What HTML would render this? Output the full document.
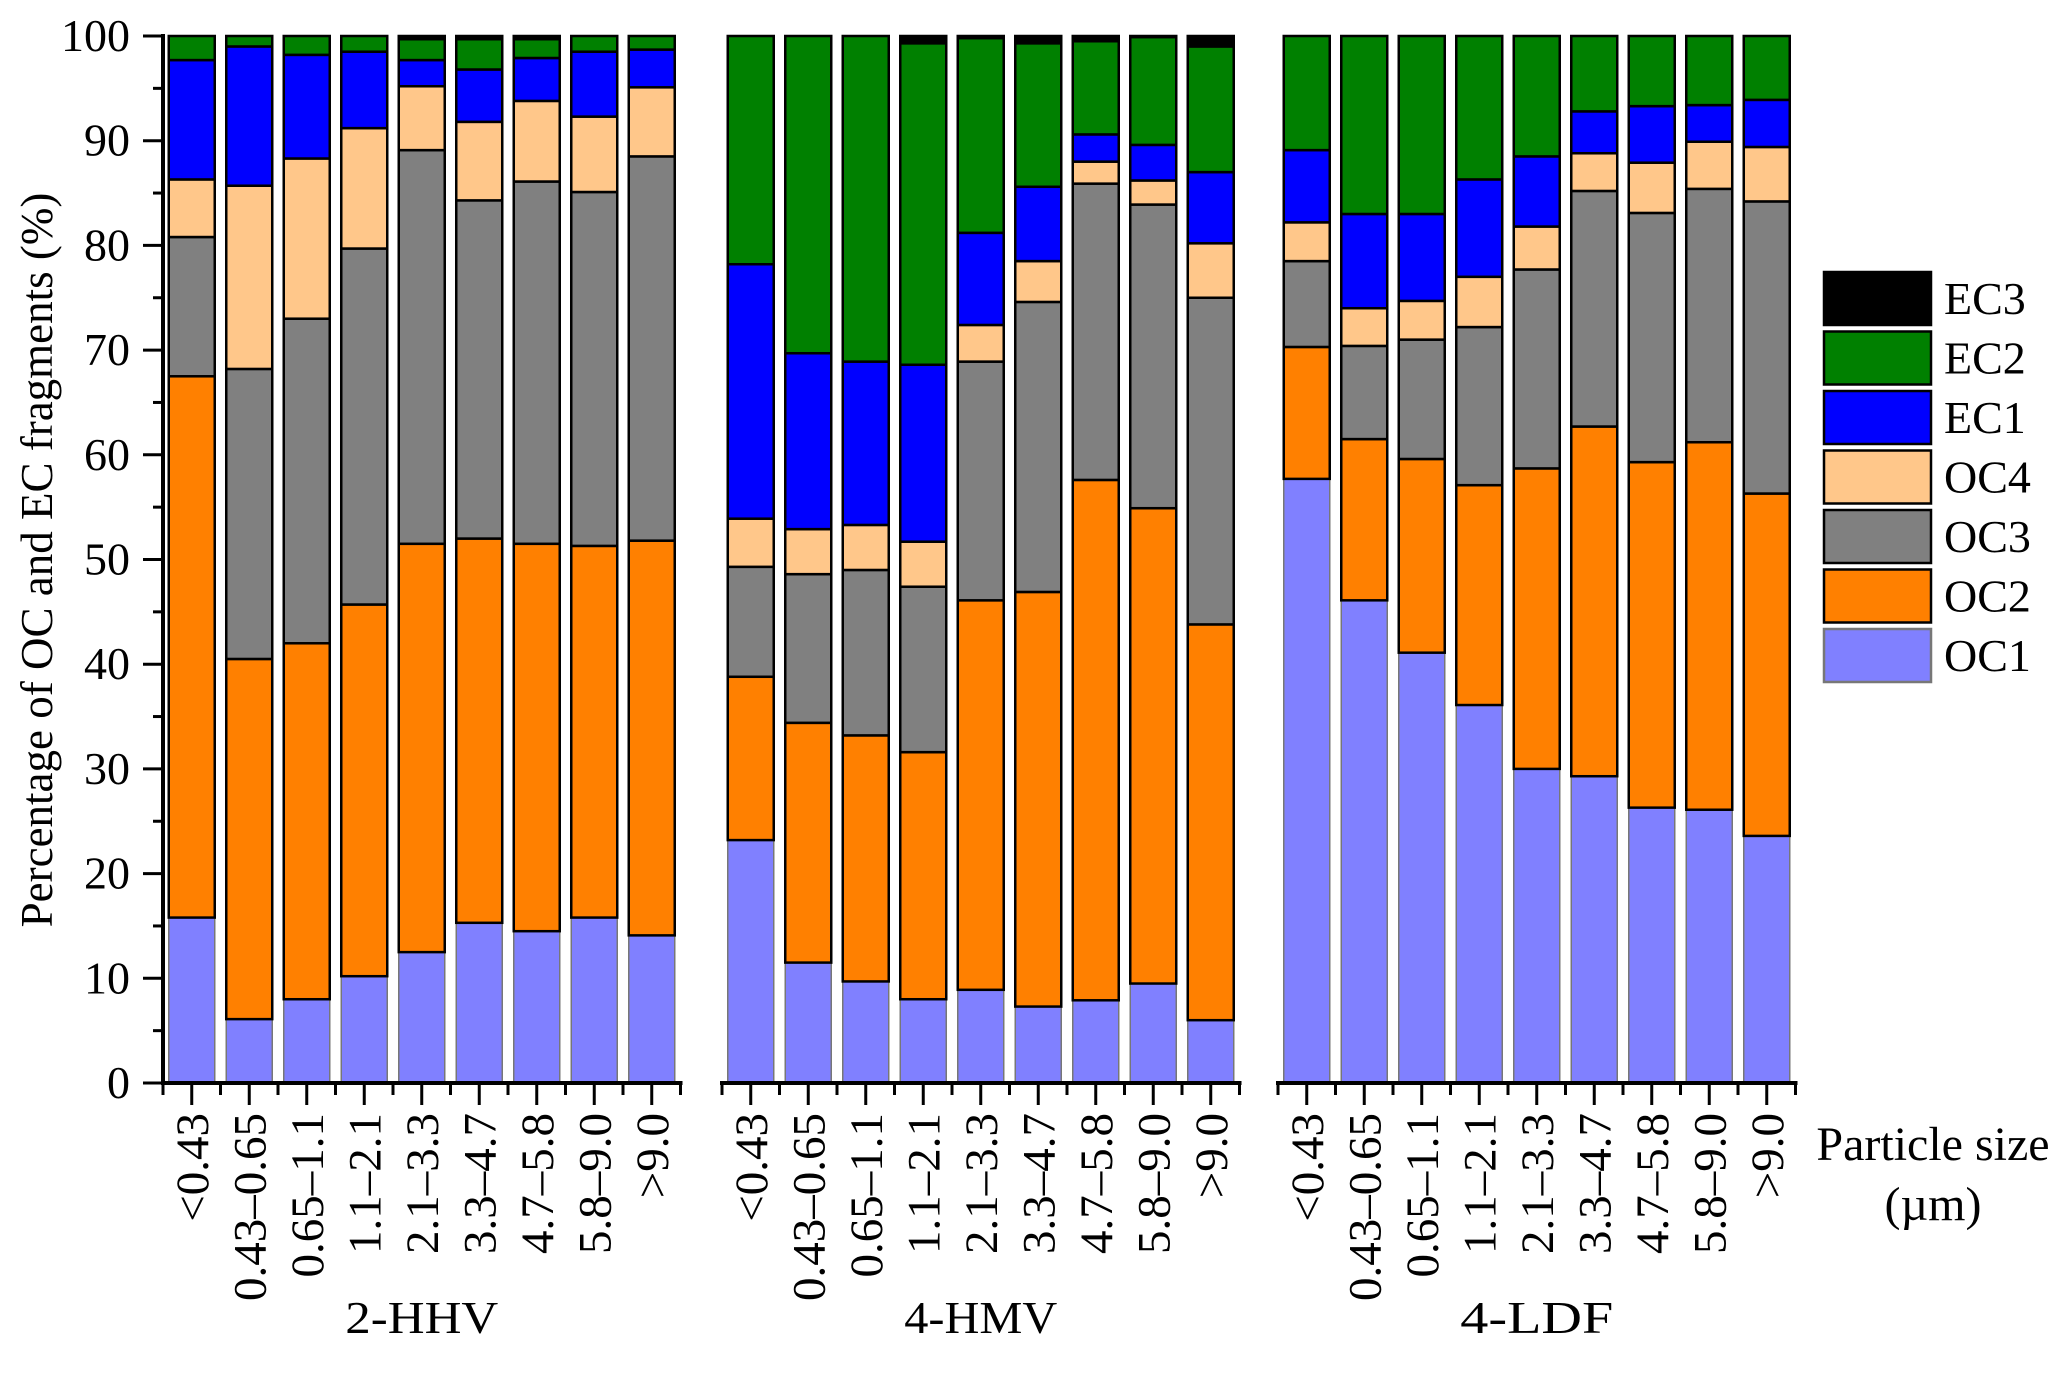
<!DOCTYPE html>
<html><head><meta charset="utf-8"><style>
html,body{margin:0;padding:0;background:#fff;}
svg text{font-family:"Liberation Serif",serif;fill:#000;}
</style></head><body>
<svg id="chart" width="2067" height="1386" viewBox="0 0 2067 1386" xmlns="http://www.w3.org/2000/svg">
<text transform="translate(52,560) rotate(-90)" text-anchor="middle" font-size="45">Percentage of OC and EC fragments (%)</text>
<text x="1933" y="1160" text-anchor="middle" font-size="48">Particle size</text>
<text x="1933" y="1220" text-anchor="middle" font-size="48">(µm)</text>
<g id="plot"></g>
<g id="legend"></g>
</svg>
<script>
const categories = ["<0.43","0.43\u20130.65","0.65\u20131.1","1.1\u20132.1","2.1\u20133.3","3.3\u20134.7","4.7\u20135.8","5.8\u20139.0",">9.0"];
const panels = ["2-HHV","4-HMV","4-LDF"];
const seriesNames = ["OC1","OC2","OC3","OC4","EC1","EC2","EC3"];
const yTicks = [0,10,20,30,40,50,60,70,80,90,100];
// 2-HHV
const hhvOC1 = [15.8,6.1,8,10.2,12.5,15.3,14.5,15.8,14.1];
const hhvOC2 = [51.7,34.4,34,35.5,39,36.7,37,35.5,37.7];
const hhvOC3 = [13.3,27.7,31,34,37.6,32.3,34.6,33.8,36.7];
const hhvOC4 = [5.5,17.5,15.3,11.5,6.1,7.5,7.7,7.2,6.6];
const hhvEC1 = [11.4,13.3,9.9,7.3,2.5,5,4.1,6.2,3.6];
const hhvEC2 = [2.3,1,1.8,1.5,2,2.9,1.8,1.5,1.3];
const hhvEC3 = [0,0,0,0,0.3,0.3,0.3,0,0];
// 4-HMV
const hmvOC1 = [23.2,11.5,9.7,8,8.9,7.3,7.9,9.5,6];
const hmvOC2 = [15.6,22.9,23.5,23.6,37.2,39.6,49.7,45.4,37.8];
const hmvOC3 = [10.5,14.2,15.8,15.8,22.8,27.7,28.3,29,31.2];
const hmvOC4 = [4.6,4.3,4.3,4.3,3.5,3.9,2.1,2.3,5.2];
const hmvEC1 = [24.3,16.8,15.6,16.9,8.8,7.1,2.6,3.4,6.8];
const hmvEC2 = [21.8,30.3,31.1,30.7,18.6,13.7,8.9,10.3,12];
const hmvEC3 = [0,0,0,0.7,0.2,0.7,0.5,0.1,1];
// 4-LDF
const ldfOC1 = [57.7,46.1,41.1,36.1,30,29.3,26.3,26.1,23.6];
const ldfOC2 = [12.6,15.4,18.5,21,28.7,33.4,33,35.1,32.7];
const ldfOC3 = [8.2,8.9,11.4,15.1,19,22.5,23.8,24.2,27.9];
const ldfOC4 = [3.7,3.6,3.7,4.8,4.1,3.6,4.8,4.5,5.2];
const ldfEC1 = [6.9,9,8.3,9.3,6.7,4,5.4,3.5,4.5];
const ldfEC2 = [10.9,17,17,13.7,11.5,7.2,6.7,6.6,6.1];
const ldfEC3 = [0,0,0,0,0,0,0,0,0];

const panelData = [
  [hhvOC1,hhvOC2,hhvOC3,hhvOC4,hhvEC1,hhvEC2,hhvEC3],
  [hmvOC1,hmvOC2,hmvOC3,hmvOC4,hmvEC1,hmvEC2,hmvEC3],
  [ldfOC1,ldfOC2,ldfOC3,ldfOC4,ldfEC1,ldfEC2,ldfEC3]
];
const colors = ["#8080ff","#ff8000","#808080","#ffc78a","#0000ff","#008000","#000000"];
const panelLeft = [163,722,1278];
const slotW = 57.5, barW = 46;
const yTop = 36, yBot = 1083;
const NS = "http://www.w3.org/2000/svg";
function y(v){ return yBot - (yBot - yTop) * v / 100; }
function xc(p,i){ return panelLeft[p] + slotW*(i+0.5); }
function mk(tag, attrs, parent){
  const e = document.createElementNS(NS, tag);
  for (const k in attrs) e.setAttribute(k, attrs[k]);
  parent.appendChild(e);
  return e;
}
const plot = document.getElementById('plot');

panels.forEach((pname, p) => {
  const g = mk('g', {}, plot);
  
  
  for (let i = 0; i < categories.length; i++) {
    let cum = 0;
    const x0 = xc(p,i) - barW/2;
    seriesNames.forEach((s, k) => {
      const v = panelData[p][k][i];
      if (v <= 0) { cum += v; return; }
      const r = mk('rect', {x:x0, y:y(cum+v), width:barW, height:y(cum)-y(cum+v), fill:colors[k],
        stroke: k===0 ? '#777' : '#000', 'stroke-width': k===0 ? 1.5 : 2.5}, g);
      
      
      cum += v;
    });
  }
  const L = panelLeft[p], R = panelLeft[p] + slotW*categories.length;
  const ax = mk('line', {x1:L-2, x2:R+2, y1:yBot, y2:yBot, stroke:'#000','stroke-width':4}, g);
  
  
  for (let i = 0; i <= categories.length; i++) {
    const tx = L + slotW*i;
    mk('line', {x1:tx, x2:tx, y1:yBot, y2:yBot+12, stroke:'#000','stroke-width':3}, g);
  }
  categories.forEach((c, i) => {
    mk('line', {x1:xc(p,i), x2:xc(p,i), y1:yBot, y2:yBot+22, stroke:'#000','stroke-width':3}, g);
    const t = mk('text', {transform:`translate(${xc(p,i)+16},1113) rotate(-90)`, 'text-anchor':'end', 'font-size':47}, g);
    t.textContent = c;
    
    
  });
  const pt = mk('text', {x:(L+R)/2, y:1333, 'text-anchor':'middle', 'font-size':46, textLength:153, lengthAdjust:'spacingAndGlyphs'}, g);
  pt.textContent = pname;
  
  
});

const ya = mk('line', {x1:163, x2:163, y1:yTop-2, y2:yBot+2, stroke:'#000','stroke-width':4}, plot);


yTicks.forEach(v => {
  mk('line', {x1:143, x2:163, y1:y(v), y2:y(v), stroke:'#000','stroke-width':3}, plot);
  if (v < 100) mk('line', {x1:153, x2:163, y1:y(v+5), y2:y(v+5), stroke:'#000','stroke-width':3}, plot);
  const t = mk('text', {x:130, y:y(v)+15, 'text-anchor':'end', 'font-size':46}, plot);
  t.textContent = v;
  
  
});

const leg = document.getElementById('legend');
for (let k = seriesNames.length - 1; k >= 0; k--) {
  const row = seriesNames.length - 1 - k;
  const yy = 272 + row*59.5;
  const r = mk('rect', {x:1824, y:yy, width:107, height:53, fill:colors[k], stroke: k===0 ? '#777' : '#000','stroke-width':2.5}, leg);
  
  
  const t = mk('text', {x:1944, y:yy+42, 'font-size':46}, leg);
  t.textContent = seriesNames[k];
  
  
}
</script>
</body></html>
